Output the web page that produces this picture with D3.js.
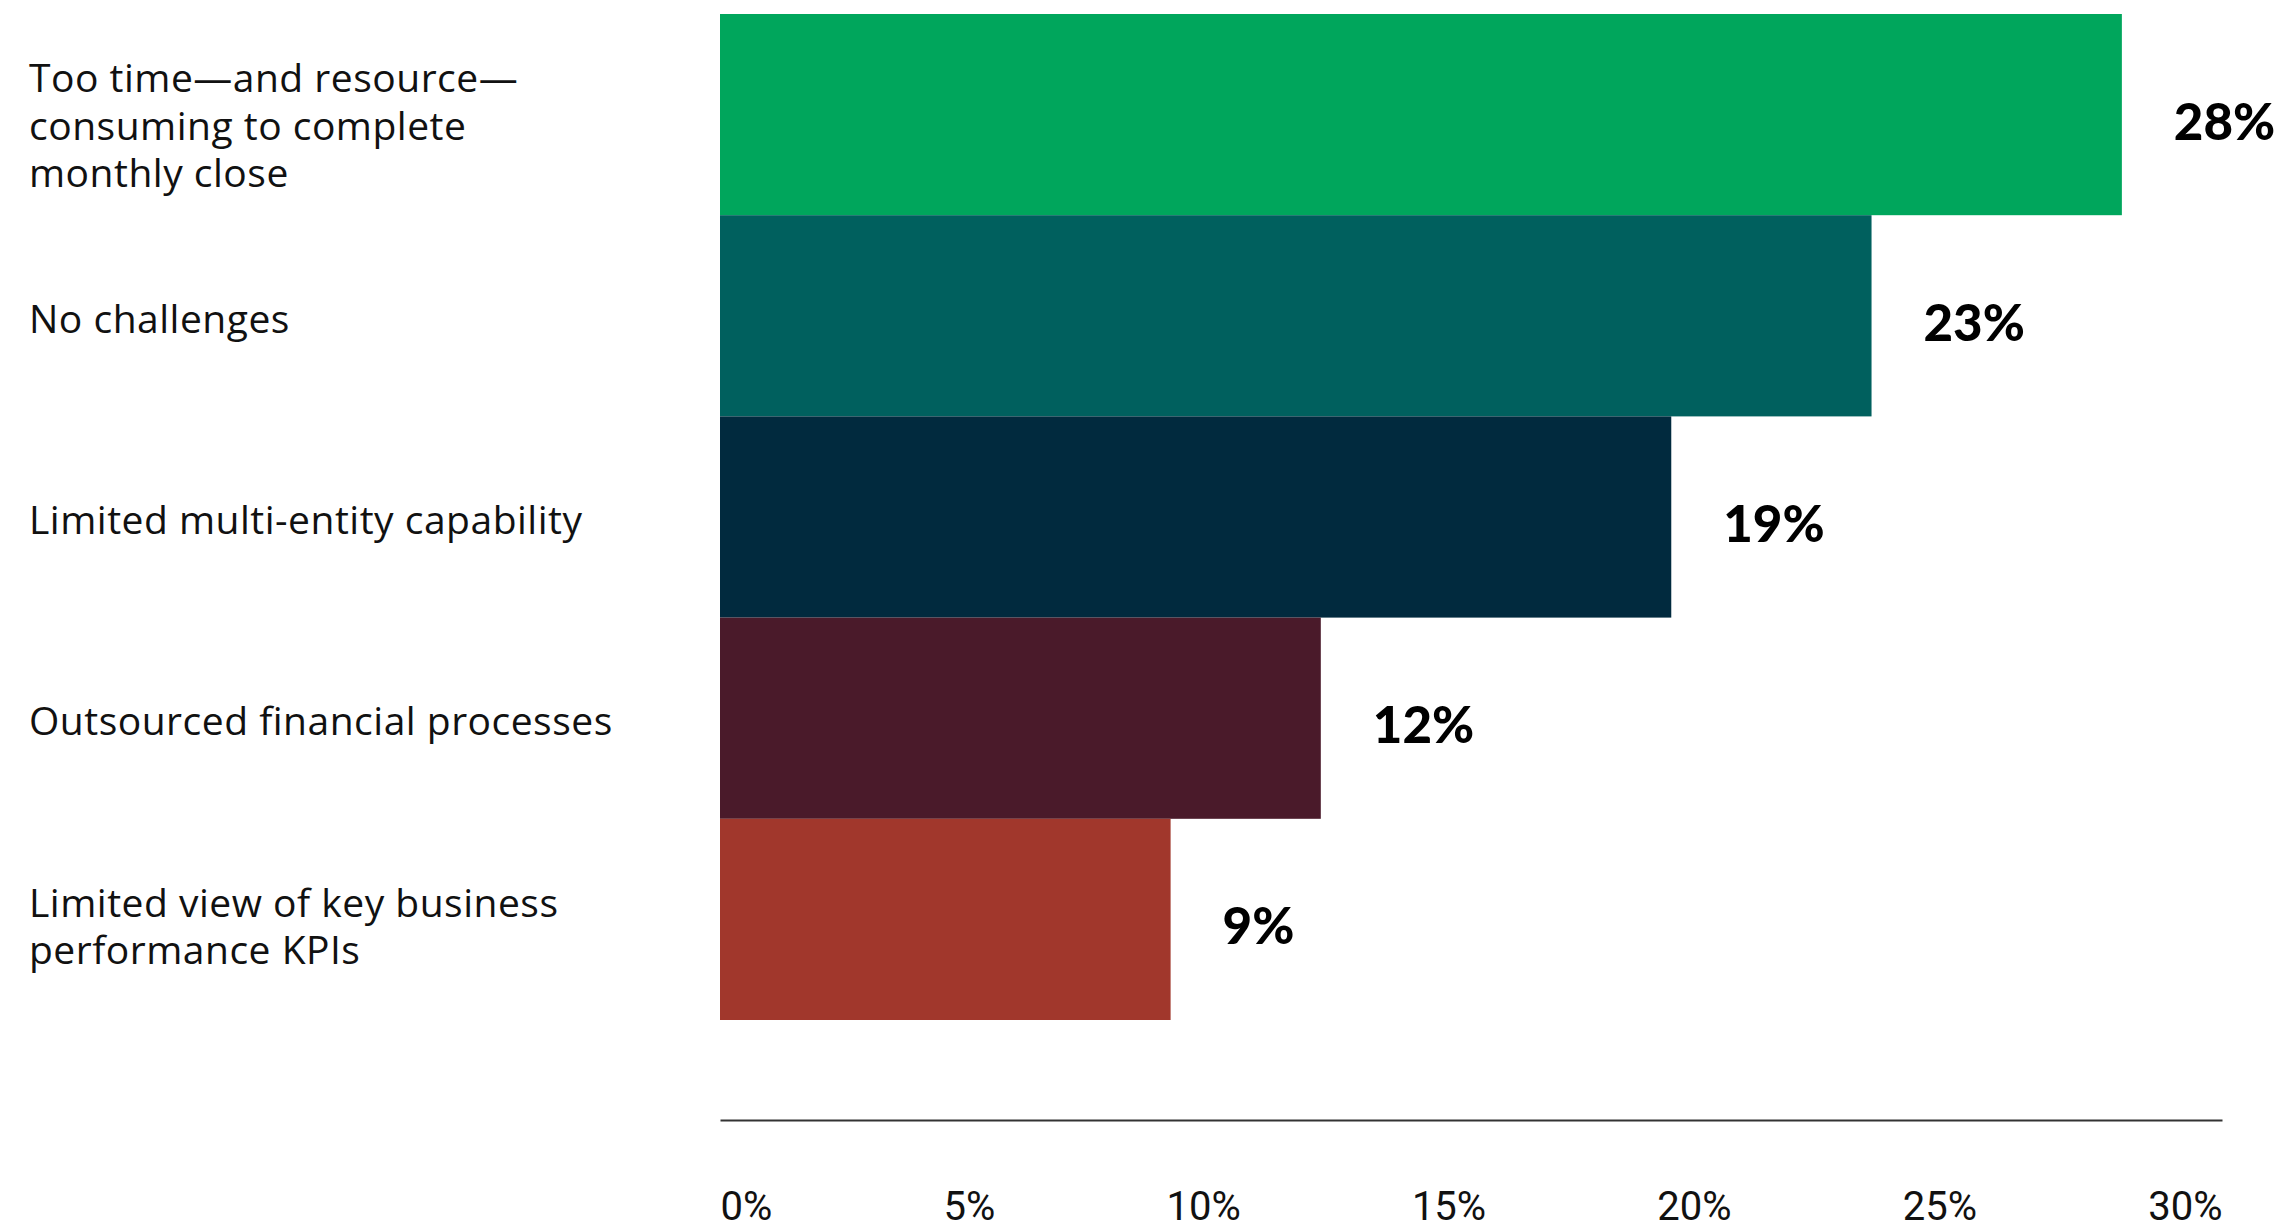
<!DOCTYPE html>
<html>
<head>
<meta charset="utf-8">
<script src="https://cdn.jsdelivr.net/npm/d3@7"></script>
<style>
  html, body { margin: 0; padding: 0; background: #ffffff; }
  svg { display: block; }
  .cat { font-family: "Open Sans", Roboto, sans-serif; font-size: 39px; letter-spacing: 0.5px; fill: #111; }
  .val { font-family: Lato, "Noto Sans", sans-serif; font-weight: 900; font-size: 51px; fill: #000; }
  .tick text { font-family: Roboto, "Noto Sans", sans-serif; font-size: 40px; fill: #111; }
</style>
</head>
<body>
<svg id="chart" width="2284" height="1230"></svg>
<script>
// Survey responses: biggest challenge in the financial close
const categories = [
  "Too time—and resource—\nconsuming to complete\nmonthly close",
  "No challenges",
  "Limited multi-entity capability",
  "Outsourced financial processes",
  "Limited view of key business\nperformance KPIs"
];
const values = [28, 23, 19, 12, 9];
const colors = ["#00a65c", "#00605e", "#012a3e", "#4a1a2a", "#a1372c"];
const tickValues = [0, 5, 10, 15, 20, 25, 30];

const plot = { left: 720, right: 2222, top: 14, bottom: 1020, axisY: 1120 };

const svg = d3.select("#chart");

const x = d3.scaleLinear().domain([0, 30]).range([plot.left, plot.right]);
const y = d3.scaleBand().domain(categories).range([plot.top, plot.bottom]).padding(0);

// bars
svg.append("g").selectAll("rect")
  .data(categories)
  .join("rect")
  .attr("x", x(0))
  .attr("y", d => y(d))
  .attr("width", (d, i) => x(values[i]) - x(0))
  .attr("height", y.bandwidth())
  .attr("fill", (d, i) => colors[i]);

// value labels to the right of each bar
svg.append("g").selectAll("text")
  .data(categories)
  .join("text")
  .attr("class", "val")
  .attr("x", (d, i) => x(values[i]) + 52)
  .attr("y", d => y(d) + y.bandwidth() / 2 + 7 + 18)
  .text((d, i) => values[i] + "%");

// category labels, vertically centred on their bars
const capH = 28, lineH = 47.7;
const catG = svg.append("g");
categories.forEach(c => {
  const lines = c.split("\n");
  const n = lines.length;
  const yc = y(c) + y.bandwidth() / 2;
  const b1 = yc + 3 + (n - 1) * 4 + capH / 2 - (n - 1) * lineH / 2;
  const t = catG.append("text").attr("class", "cat");
  lines.forEach((ln, j) => {
    t.append("tspan").attr("x", 29).attr("y", b1 + j * lineH).text(ln);
  });
});

// x axis: baseline rule with labels spread edge to edge
const axis = d3.axisBottom(x)
  .tickValues(tickValues)
  .tickSize(0)
  .tickPadding(0)
  .tickFormat(d => d + "%");

const axG = svg.append("g")
  .attr("transform", `translate(0,${plot.axisY})`)
  .call(axis);

axG.select(".domain")
  .attr("stroke", "#333")
  .attr("stroke-width", 2);

const texts = axG.selectAll(".tick text")
  .attr("text-anchor", "start")
  .attr("dy", null)
  .attr("y", 100);

const widths = [];
texts.each(function () { widths.push(this.getComputedTextLength()); });
const gap = (plot.right - plot.left - d3.sum(widths)) / (tickValues.length - 1);
let cursor = plot.left;
texts.each(function (d, i) {
  d3.select(this).attr("x", cursor - x(d));
  cursor += widths[i] + gap;
});
</script>
</body>
</html>
